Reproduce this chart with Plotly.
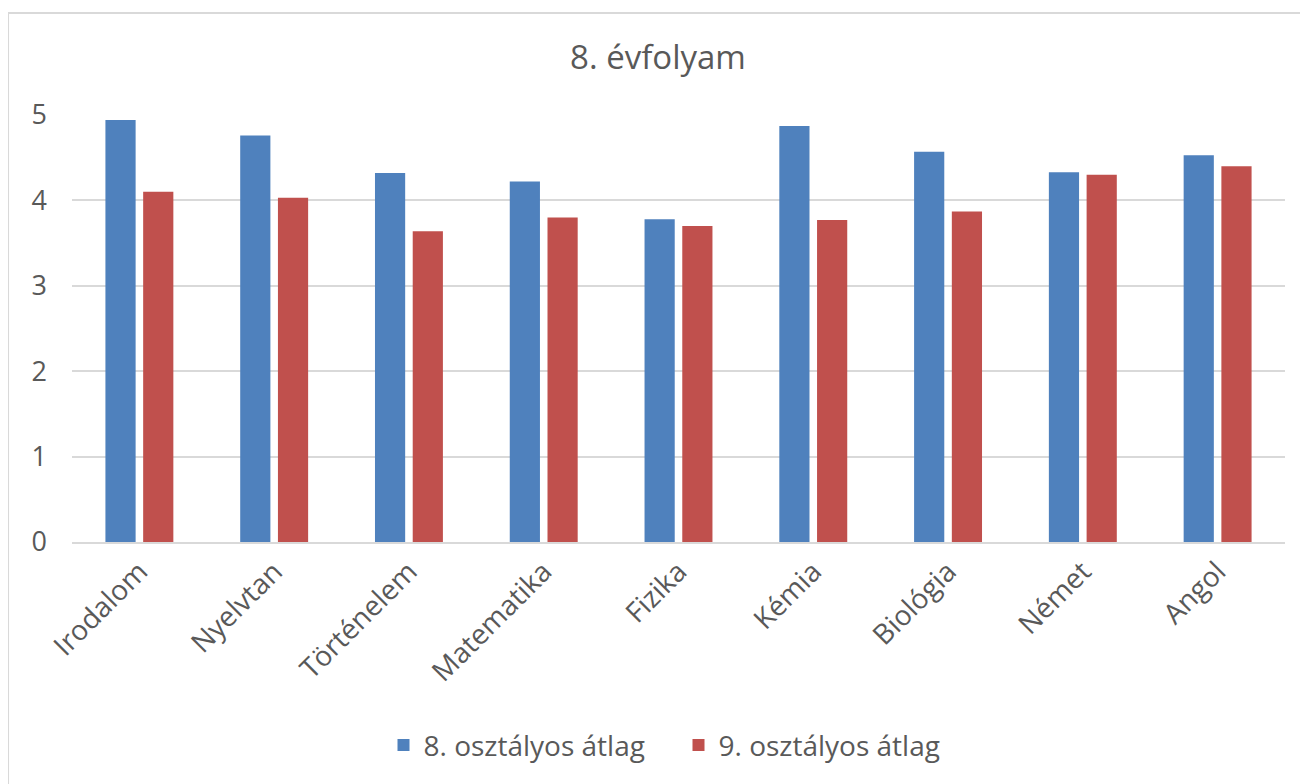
import plotly.graph_objects as go

categories = ["Irodalom", "Nyelvtan", "Történelem", "Matematika", "Fizika",
              "Kémia", "Biológia", "Német", "Angol"]
series8 = [4.94, 4.76, 4.32, 4.22, 3.78, 4.87, 4.57, 4.33, 4.53]
series9 = [4.10, 4.03, 3.64, 3.80, 3.70, 3.77, 3.87, 4.30, 4.40]
name8 = "8. osztályos átlag"
name9 = "9. osztályos átlag"
title_text = "8. évfolyam"
yticks = [0, 1, 2, 3, 4, 5]

FONT = "Open Sans"
TXT = "#595959"

fig = go.Figure()
fig.add_trace(go.Bar(x=categories, y=series8, name=name8, marker_color="#4F81BD",
                     marker_line_width=0))
fig.add_trace(go.Bar(x=categories, y=series9, name=name9, marker_color="#C0504D",
                     marker_line_width=0))

OFF = 8  # page body margin
W, H = 1308 - OFF, 784 - OFF
L, T = 72 - OFF, 115 - OFF
B = H - (542.5 - OFF)
R = W - (1285.5 - OFF)
pw, ph = W - L - R, H - T - B

def py(y):  # screen y -> paper y
    return (T + ph - (y - OFF)) / ph

def px(x):
    return ((x - OFF) - L) / pw

fig.update_layout(
    width=W, height=H,
    margin=dict(l=L, r=R, t=T, b=B, autoexpand=False),
    paper_bgcolor="white", plot_bgcolor="white",
    barmode="group", bargap=0.44, bargroupgap=0.2,
    font=dict(family=FONT, color=TXT),
    title=dict(text=title_text, x=0.5, xanchor="center", y=1 - (57 - OFF) / H,
               yanchor="middle", font=dict(size=33, color=TXT, family=FONT)),
    legend=dict(orientation="h", x=0.5, xanchor="center", y=py(746),
                yanchor="middle", font=dict(size=28, color=TXT), itemwidth=30,
                entrywidth=250, entrywidthmode="pixels",
                traceorder="normal"),
    xaxis=dict(tickangle=-45, tickfont=dict(size=28, color=TXT), showgrid=False,
               showline=True, linecolor="#D9D9D9", linewidth=2, ticks=""),
    yaxis=dict(range=[0, 5], tickvals=yticks, tickfont=dict(size=27, color=TXT),
               showgrid=True, gridcolor="#D9D9D9", gridwidth=2, zeroline=False,
               showline=False, ticks="", ticklabelstandoff=24),
    shapes=[dict(type="rect", xref="paper", yref="paper",
                 x0=px(8), x1=px(1330), y0=py(810), y1=py(13),
                 line=dict(color="#D9D9D9", width=2), layer="below")],
)

fig.write_html("out.html")
